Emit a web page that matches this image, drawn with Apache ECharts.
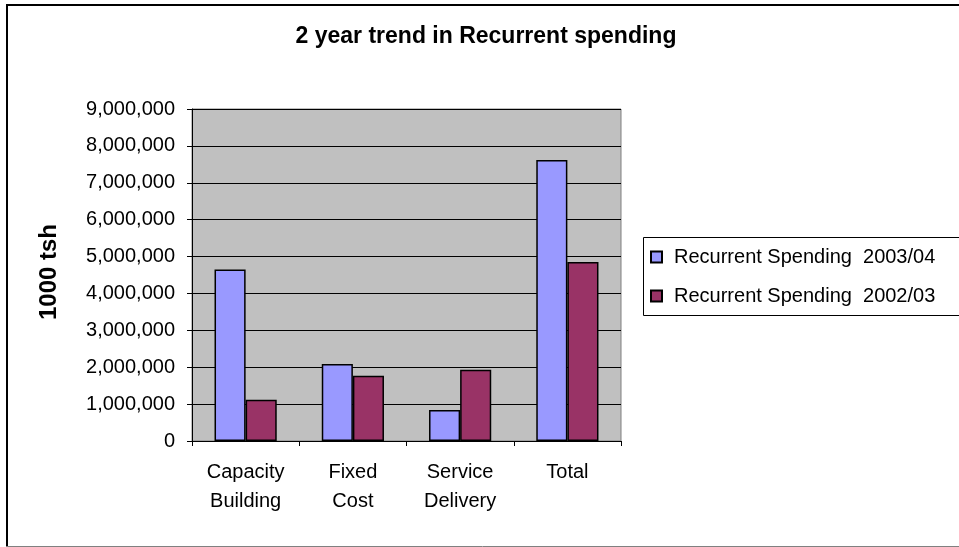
<!DOCTYPE html>
<html>
<head>
<meta charset="utf-8">
<script src="https://cdn.jsdelivr.net/npm/echarts@6/dist/echarts.min.js"></script>
<style>html,body{margin:0;padding:0;background:#fff;}#c{width:959px;height:547px;}</style>
</head>
<body>
<div id="c"></div>
<script>
const categories = ['Capacity Building', 'Fixed Cost', 'Service Delivery', 'Total'];
const seriesNames = ['Recurrent Spending  2003/04', 'Recurrent Spending  2002/03'];
const spending2003 = [4650000, 2090000, 840000, 7620000];
const spending2002 = [1120000, 1770000, 1930000, 4850000];
const yTicks = { min: 0, max: 9000000, interval: 1000000 };

const FONT = '"Liberation Sans", Arial, sans-serif';
const chart = echarts.init(document.getElementById('c'), null, { renderer: 'canvas' });
chart.setOption({
  animation: false,
  backgroundColor: '#ffffff',
  title: {
    text: '2 year trend in Recurrent spending',
    left: 486, top: 25, textAlign: 'center', padding: 0,
    textStyle: { fontFamily: FONT, fontWeight: 'bold', fontSize: 23, color: '#000' }
  },
  grid: { left: 192, right: 338, top: 109, bottom: 106, show: true, backgroundColor: '#c0c0c0', borderColor: '#808080', borderWidth: 1 },
  legend: {
    orient: 'vertical', left: 650, top: 247, padding: 0,
    itemWidth: 11, itemHeight: 11, itemGap: 19, icon: 'rect',
    textStyle: { fontFamily: FONT, fontSize: 20, color: '#000', padding: [0, 0, 0, 7] },
    data: seriesNames
  },
  xAxis: {
    type: 'category', data: categories,
    axisLine: { lineStyle: { color: '#000', width: 1 } },
    axisTick: { show: true, length: 5, lineStyle: { color: '#000' } },
    axisLabel: { fontFamily: FONT, fontSize: 20, color: '#000', margin: 17, lineHeight: 29, interval: 0,
      formatter: v => v.replace(' ', '\n') }
  },
  yAxis: {
    type: 'value', min: yTicks.min, max: yTicks.max, interval: yTicks.interval,
    axisLine: { show: true, lineStyle: { color: '#000', width: 1 } },
    axisTick: { show: true, length: 5, lineStyle: { color: '#000' } },
    splitLine: { show: true, lineStyle: { color: '#000', width: 1 } },
    axisLabel: { fontFamily: FONT, fontSize: 20, color: '#000', margin: 17,
      formatter: v => v.toLocaleString('en-US') }
  },
  series: [
    { name: seriesNames[0], type: 'bar', data: spending2003, barGap: '0%', barCategoryGap: '42%',
      itemStyle: { color: '#9999ff', borderColor: '#000', borderWidth: 1.5 } },
    { name: seriesNames[1], type: 'bar', data: spending2002, barGap: '0%', barCategoryGap: '42%',
      itemStyle: { color: '#993366', borderColor: '#000', borderWidth: 1.5 } }
  ],
  graphic: [
    { type: 'line', shape: { x1: 6, y1: 5, x2: 959, y2: 5 }, style: { stroke: '#000', lineWidth: 2 } },
    { type: 'line', shape: { x1: 7, y1: 5, x2: 7, y2: 546 }, style: { stroke: '#000', lineWidth: 2 } },
    { type: 'line', shape: { x1: 6, y1: 546.5, x2: 959, y2: 546.5 }, style: { stroke: '#808080', lineWidth: 1 } },
    { type: 'rect', shape: { x: 643.5, y: 237.5, width: 400, height: 78 }, style: { fill: null, stroke: '#000', lineWidth: 1 }, z: 10 },
    { type: 'text', x: 49, y: 272, rotation: Math.PI / 2,
      style: { text: '1000 tsh', fontFamily: FONT, fontWeight: 'bold', fontSize: 24, fill: '#000', align: 'center', verticalAlign: 'middle' } }
  ]
});
</script>
</body>
</html>
